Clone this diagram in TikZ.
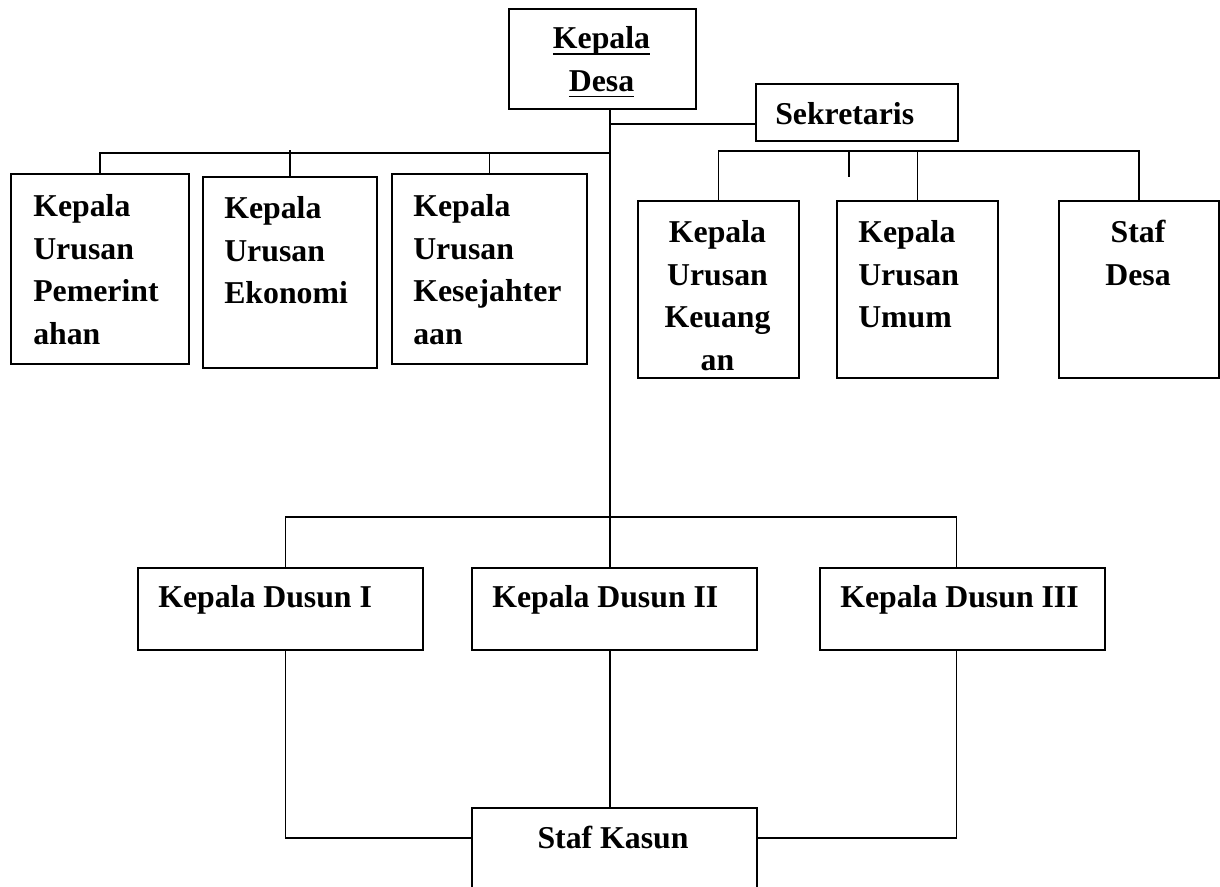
\documentclass[tikz,border=0pt]{standalone}
\usepackage{fontspec}
\setmainfont{Liberation Serif}
\usetikzlibrary{calc}

\newlength{\ulwd}
\newcommand{\ulin}[1]{\settowidth{\ulwd}{#1}\rlap{\rule[-4.4pt]{\ulwd}{1.4pt}}#1}

\begin{document}
\begin{tikzpicture}[x=0.025cm, y=0.025cm,
  box/.style={draw, line width=1.3pt, anchor=north west, inner sep=0pt},
  txt/.style={inner sep=0pt, font=\fontsize{22.6}{30.2}\selectfont\bfseries, align=left},
  link/.style={line width=1.1pt}]
  \clip (0,0) rectangle (1220,-886);
  \fill[white] (0,0) rectangle (1220,-886);

  % Kepala Desa and Sekretaris
  \node[box, minimum width=4.675cm, minimum height=2.5cm] (kades) at (508,-8) {};
  \node[txt, anchor=north, align=center] (kades-t) at (601.5,-26.5) {\ulin{Kepala}\\\ulin{Desa}};
  \node[box, minimum width=5.05cm, minimum height=1.425cm] (sek) at (755,-83) {};
  \node[txt, anchor=north west] (sek-t) at (775,-102) {Sekretaris};

  % Kepala Urusan, left group
  \node[box, minimum width=4.45cm, minimum height=4.75cm] (kup) at (10,-173) {};
  \node[txt, anchor=north west] (kup-t) at (33,-194.5) {Kepala\\Urusan\\Pemerint\\ahan};
  \node[box, minimum width=4.35cm, minimum height=4.775cm] (kue) at (202,-176) {};
  \node[txt, anchor=north west] (kue-t) at (224,-196.5) {Kepala\\Urusan\\Ekonomi};
  \node[box, minimum width=4.875cm, minimum height=4.75cm] (kuk) at (391,-173) {};
  \node[txt, anchor=north west] (kuk-t) at (413,-194.5) {Kepala\\Urusan\\Kesejahter\\aan};

  % Kepala Urusan, right group
  \node[box, minimum width=4.025cm, minimum height=4.425cm] (kuu) at (637,-200) {};
  \node[txt, anchor=north, align=center] (kuu-t) at (717.5,-220.5) {Kepala\\Urusan\\Keuang\\an};
  \node[box, minimum width=4.025cm, minimum height=4.425cm] (kuum) at (836,-200) {};
  \node[txt, anchor=north west] (kuum-t) at (858,-220.5) {Kepala\\Urusan\\Umum};
  \node[box, minimum width=4cm, minimum height=4.425cm] (sdesa) at (1058,-200) {};
  \node[txt, anchor=north, align=center] (sdesa-t) at (1138,-220) {Staf\\Desa};

  % Kepala Dusun
  \foreach \n/\x/\t in {d1/137/I, d2/471/II, d3/819/III} {
    \node[box, minimum width=7.125cm, minimum height=2.05cm] (\n) at (\x,-567) {};
    \node[txt, anchor=north west] (\n-t) at (\x+21,-585.5) {Kepala Dusun \t};
  }

  % Staf Kasun
  \node[box, minimum width=7.125cm, minimum height=3cm] (kasun) at (471,-807) {};
  \node[txt, anchor=north] (kasun-t) at (613,-826) {Staf Kasun};

  % connectors
  \coordinate (bus) at (610,-517);
  \coordinate (lbus) at (610,-153);
  \coordinate (rbus) at (849,-151);
  \coordinate (sekin) at ($(sek.south west)+(0,18)$);
  \coordinate (kin) at ($(kasun.north west)+(0,-31)$);
  \coordinate (kout) at ($(kasun.north east)+(0,-31)$);
  \coordinate (d1x) at ([xshift=0.125cm]d1.north);
  \coordinate (d3x) at ([xshift=-0.15cm]d3.north);

  \draw[link] (kades.south -| bus) -- (bus);
  \draw[link] (sekin) -- (sekin -| bus);
  \draw[link] (kup.north) |- (lbus);
  \draw[link] (kue.north) -- ++(0,26);
  \draw[link] (kuk.north) -- (kuk.north |- lbus);
  \draw[link] (kuu.north) |- (sdesa.north |- rbus) -- (sdesa.north);
  \draw[link] (kuum.north) -- (kuum.north |- rbus);
  \draw[link] (rbus) -- ++(0,-26);
  \draw[link] (d1x) |- (bus) -| (d3x);
  \draw[link] (bus) -- (bus |- d2.north);
  \draw[link] (d1x |- d1.south) |- (kin);
  \draw[link] (d3x |- d3.south) |- (kout);
  \draw[link] (bus |- d2.south) -- (bus |- kasun.north);
\end{tikzpicture}
\end{document}
